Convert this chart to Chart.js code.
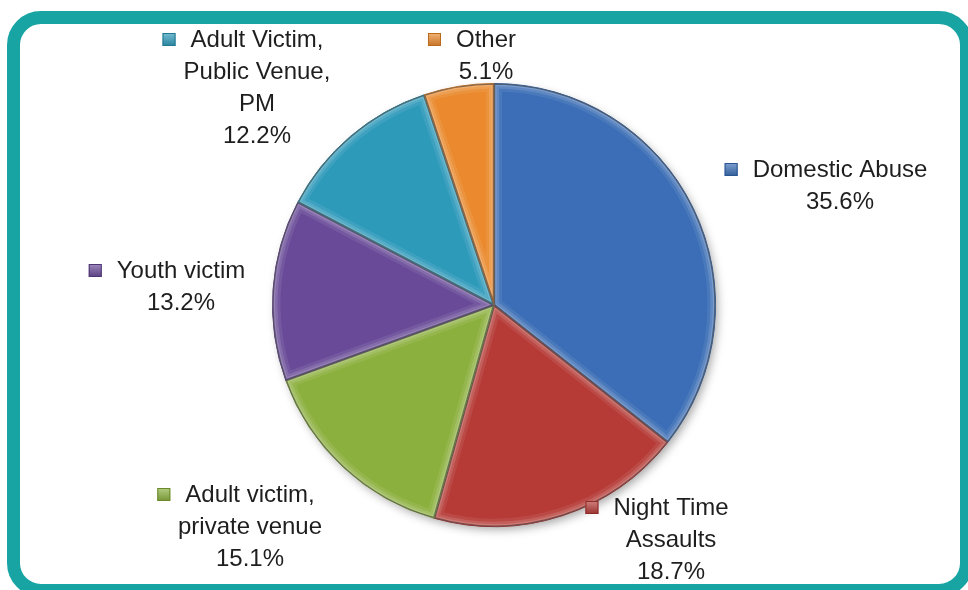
<!DOCTYPE html>
<html>
<head>
<meta charset="utf-8">
<script src="https://cdn.jsdelivr.net/npm/chart.js@4.4.1/dist/chart.umd.min.js"></script>
<style>
  html, body { margin: 0; padding: 0; background: #fff; }
  body { width: 968px; height: 590px; position: relative; overflow: hidden; }
  .frame {
    position: absolute; left: 7px; top: 11px; width: 940px; height: 560px;
    border: 13px solid #19a4a4; border-radius: 34px; background: #fff;
  }
  #wrap { position: absolute; left: 0; top: 0; width: 968px; height: 590px; }
</style>
</head>
<body>
<div class="frame"></div>
<div id="wrap"><canvas id="pie"></canvas></div>
<script>
// Offence categories and their share of incidents (%)
const categories = [
  ["Domestic Abuse"],
  ["Night Time", "Assaults"],
  ["Adult victim,", "private venue"],
  ["Youth victim"],
  ["Adult Victim,", "Public Venue,", "PM"],
  ["Other"]
];
const shares = [35.6, 18.7, 15.1, 13.2, 12.2, 5.1];

const sliceColors = ["#3b6eb6", "#b63b37", "#8cb03e", "#694a98", "#2e9aba", "#ea892d"];
const rimColors   = ["#2a5590", "#8c2b28", "#6b8a2a", "#4e3675", "#217891", "#bb6a1c"];

// label block anchors, pixel offsets from the pie centre (text centre, first line)
const labelOffsets = [[346, -135], [177, 203], [-244, 190], [-313, -34], [-237, -265], [-8, -265]];

function shade(hex, amt) {
  const n = parseInt(hex.slice(1), 16);
  let r = (n >> 16) & 255, g = (n >> 8) & 255, b = n & 255;
  const f = v => Math.max(0, Math.min(255, Math.round(amt > 0 ? v + (255 - v) * amt : v * (1 + amt))));
  return `rgb(${f(r)},${f(g)},${f(b)})`;
}

// soft bevel along every slice edge + drop shadow under the pie
const bevel = {
  id: 'bevel',
  beforeDatasetsDraw(chart) {
    const arc = chart.getDatasetMeta(0).data[0];
    if (!arc) return;
    const ctx = chart.ctx;
    ctx.save();
    ctx.shadowColor = 'rgba(0,0,0,0.35)';
    ctx.shadowBlur = 10;
    ctx.shadowOffsetX = 3;
    ctx.shadowOffsetY = 4;
    ctx.fillStyle = '#888';
    ctx.beginPath();
    ctx.arc(arc.x, arc.y, arc.outerRadius - 1, 0, Math.PI * 2);
    ctx.fill();
    ctx.restore();
  },
  afterDatasetsDraw(chart) {
    const ctx = chart.ctx;
    chart.getDatasetMeta(0).data.forEach((a, i) => {
      const p = () => {
        ctx.beginPath();
        ctx.moveTo(a.x, a.y);
        ctx.arc(a.x, a.y, a.outerRadius, a.startAngle, a.endAngle);
        ctx.closePath();
      };
      ctx.save();
      p();
      ctx.clip();
      ctx.lineJoin = 'round';
      [[16, 0.08], [10, 0.12], [5, 0.16]].forEach(([w, al]) => {
        p();
        ctx.lineWidth = w;
        ctx.strokeStyle = `rgba(255,255,255,${al})`;
        ctx.stroke();
      });
      p();
      ctx.lineWidth = 2.5;
      ctx.strokeStyle = 'rgba(0,0,0,0.38)';
      ctx.stroke();
      ctx.restore();
    });
  }
};

// category name + percentage beside each slice, with a small colour key
const sliceLabels = {
  id: 'sliceLabels',
  afterDraw(chart) {
    const ctx = chart.ctx;
    const a0 = chart.getDatasetMeta(0).data[0];
    ctx.save();
    ctx.font = '24px "Liberation Sans", Arial, sans-serif';
    ctx.textAlign = 'center';
    ctx.textBaseline = 'middle';
    categories.forEach((lines, i) => {
      const cx = a0.x + labelOffsets[i][0];
      const y0 = a0.y + labelOffsets[i][1];
      const rows = lines.concat([shares[i].toFixed(1) + '%']);
      ctx.fillStyle = '#1e1e1e';
      rows.forEach((t, k) => ctx.fillText(t, cx, y0 + k * 32));
      const w = ctx.measureText(lines[0]).width;
      const mx = cx - w / 2 - 15 - 13, my = y0 - 7;
      const g = ctx.createLinearGradient(0, my, 0, my + 13);
      g.addColorStop(0, shade(sliceColors[i], 0.35));
      g.addColorStop(1, shade(sliceColors[i], -0.15));
      ctx.fillStyle = g;
      ctx.fillRect(mx, my, 13, 13);
      ctx.strokeStyle = rimColors[i];
      ctx.lineWidth = 1;
      ctx.strokeRect(mx + 0.5, my + 0.5, 12, 12);
    });
    ctx.restore();
  }
};

new Chart(document.getElementById('pie'), {
  type: 'pie',
  data: {
    labels: categories.map(l => l.join(' ')),
    datasets: [{
      data: shares,
      backgroundColor: ctx => {
        const a = ctx.element;
        const i = ctx.dataIndex;
        if (!a || !a.outerRadius) return sliceColors[i];
        const g = ctx.chart.ctx.createRadialGradient(a.x, a.y, 0, a.x, a.y, a.outerRadius);
        g.addColorStop(0, shade(sliceColors[i], 0.08));
        g.addColorStop(0.85, sliceColors[i]);
        g.addColorStop(1, shade(sliceColors[i], -0.12));
        return g;
      },
      borderColor: rimColors,
      borderWidth: 1
    }]
  },
  options: {
    responsive: true,
    maintainAspectRatio: false,
    animation: false,
    layout: { padding: { top: 83, bottom: 63, left: 272, right: 252 } },
    plugins: {
      legend: { display: false },
      tooltip: { enabled: false }
    }
  },
  plugins: [bevel, sliceLabels]
});
</script>
</body>
</html>
